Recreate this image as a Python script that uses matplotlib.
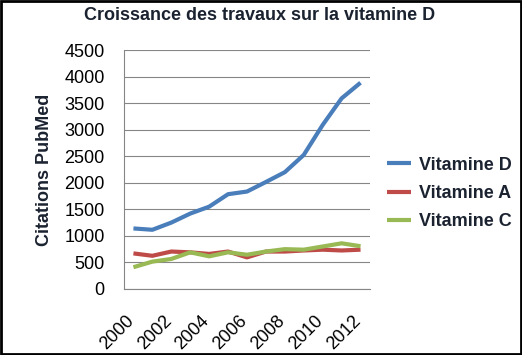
import numpy as np
import matplotlib
matplotlib.use("Agg")
from matplotlib import pyplot as plt
from matplotlib.patches import Rectangle
from matplotlib.transforms import ScaledTranslation

years = list(range(2000, 2013))
vit_d = [1140, 1115, 1250, 1420, 1550, 1785, 1835, 2015, 2200, 2525, 3090, 3590, 3885]
vit_a = [670, 625, 705, 690, 660, 705, 595, 705, 705, 725, 740, 725, 740]
vit_c = [410, 515, 565, 690, 615, 690, 645, 705, 750, 740, 800, 860, 805]
series_names = ['Vitamine D', 'Vitamine A', 'Vitamine C']
series_colors = ['#4a7ebb', '#be4b48', '#98b954']

# no narrow font here, plain Liberation bold is the closest
bold_font = ['Liberation Sans', 'DejaVu Sans']
text_color = '#1b2230'

fig = plt.figure(figsize=(5.22, 3.55), dpi=100)
ax = fig.add_axes([0.2375, 0.186, 0.4713, 0.673])

x = np.arange(len(years))
for vals, name, col in zip([vit_d, vit_a, vit_c], series_names, series_colors):
    ax.plot(x, vals, color=col, lw=3, label=name, solid_capstyle='butt')

ax.set_xlim(-0.5, len(years) - 0.5)
ax.set_ylim(0, 4500)
ax.tick_params(axis='y', length=0, pad=14)
ax.tick_params(axis='x', length=0, pad=13)
ax.set_yticks(np.arange(0, 4501, 500))
ax.set_yticklabels([str(v) for v in range(0, 4501, 500)],
                   family='Liberation Sans', fontsize=13, color='black')
ax.set_xticks(x[::2])
ax.set_xticklabels([str(y) for y in years[::2]], rotation=45, ha='right',
                   rotation_mode='anchor', family='Liberation Sans', fontsize=13)
# nudge the rotated year labels a bit left/down like the original
shift = ScaledTranslation(-6 / 72, -4 / 72, fig.dpi_scale_trans)
for lab in ax.get_xticklabels():
    lab.set_transform(lab.get_transform() + shift)
ax.grid(axis='y', color='#868686', lw=0.8)
ax.set_axisbelow(True)
for s in ['top', 'right']:
    ax.spines[s].set_visible(False)
ax.spines['left'].set_color('#868686')
ax.spines['bottom'].set_color('#868686')

ax.set_ylabel('Citations PubMed', family=bold_font, fontweight='bold',
              fontsize=13, color=text_color, labelpad=8)
fig.text(0.498, 0.955, 'Croissance des travaux sur la vitamine D', ha='center', va='center',
         family=bold_font, fontweight='bold', fontsize=13, color=text_color)

leg = ax.legend(loc='center left', bbox_to_anchor=(1.07, 0.40), frameon=False,
                prop={'family': bold_font, 'weight': 'bold', 'size': 13},
                handlelength=1.3, handletextpad=0.45, labelspacing=0.62,
                borderaxespad=0, borderpad=0)
for t in leg.get_texts():
    t.set_color(text_color)

fig.patches.append(Rectangle((0.002, 0.003), 0.996, 0.994, transform=fig.transFigure,
                             fill=False, edgecolor='black', lw=2))

fig.savefig('out.png', dpi=100)
